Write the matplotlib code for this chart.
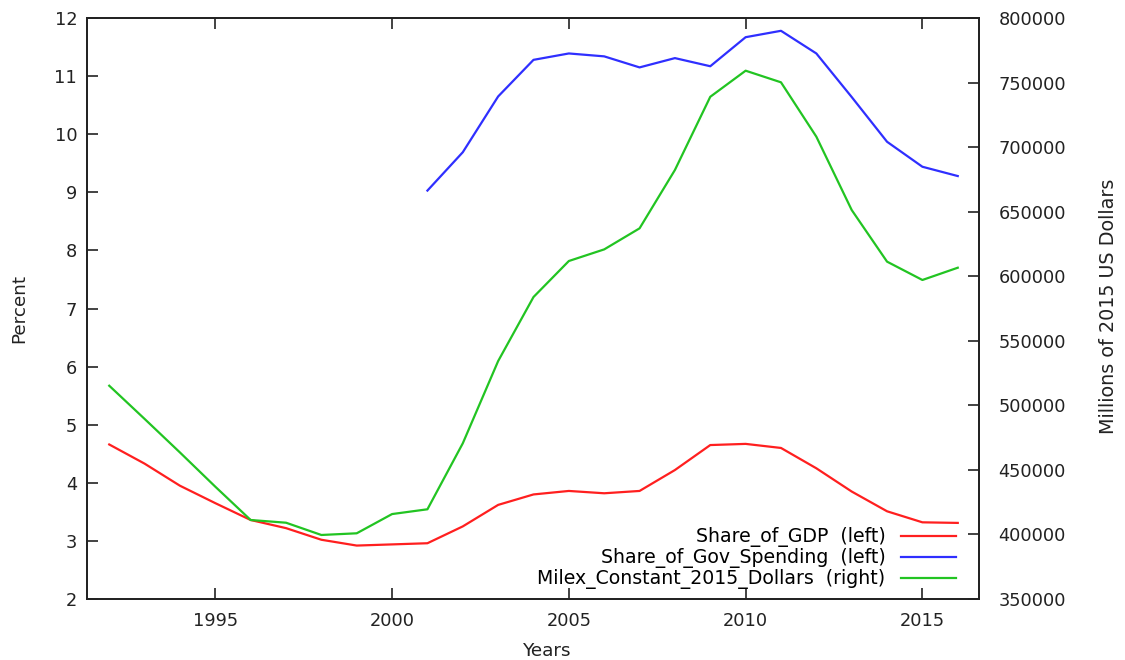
import matplotlib.pyplot as plt

years = list(range(1992, 2017))
share_gdp = [4.66, 4.33, 3.95, 3.65, 3.36, 3.22, 3.02, 2.92, 2.94, 2.96,
             3.25, 3.62, 3.80, 3.86, 3.82, 3.86, 4.22, 4.65, 4.67, 4.60,
             4.25, 3.85, 3.51, 3.32, 3.31]
gov_years = list(range(2001, 2017))
share_gov = [9.03, 9.69, 10.65, 11.28, 11.39, 11.34, 11.15, 11.31, 11.17, 11.67,
             11.78, 11.39, 10.64, 9.87, 9.44, 9.28]
milex = [515200, 489500, 463500, 437000, 411200, 409100, 399600, 400900, 415800, 419500,
         470600, 534300, 583900, 611800, 620800, 637100, 682300, 739000, 759200, 750200,
         708100, 651300, 611300, 597100, 606600]

plt.rcParams['font.family'] = 'DejaVu Sans'
plt.rcParams['font.size'] = 12.8

fig = plt.figure(figsize=(11.25, 6.6), dpi=100)
ax = fig.add_axes([0.0773, 0.0924, 0.7929, 0.8803])
ax2 = ax.twinx()

l1, = ax.plot(years, share_gdp, color='#ff1f1f', lw=1.6, label='Share_of_GDP  (left)')
l2, = ax.plot(gov_years, share_gov, color='#2f2fff', lw=1.6, label='Share_of_Gov_Spending  (left)')
l3, = ax2.plot(years, milex, color='#22c422', lw=1.6, label='Milex_Constant_2015_Dollars  (right)')

ax.set_xlim(1991.37, 2016.6)
ax.set_ylim(2, 12)
ax2.set_ylim(350000, 800000)
ax.set_xticks([1995, 2000, 2005, 2010, 2015])
ax.set_yticks(range(2, 13))
ax2.set_yticks(range(350000, 800001, 50000))

for a in (ax, ax2):
    for s in a.spines.values():
        s.set_linewidth(1.3)
        s.set_color('#222222')
ax.tick_params(axis='x', direction='in', length=8, width=1.2, top=True, pad=9, colors='#222222')
ax.tick_params(axis='y', direction='in', length=8, width=1.2, right=False, pad=7, colors='#222222')
ax2.tick_params(axis='y', direction='in', length=8, width=1.2, pad=14, colors='#222222')

ax.set_xlabel('Years', color='#222222', fontsize=13.2)
ax.xaxis.set_label_coords(0.516, -0.074)
ax.set_ylabel('Percent', color='#222222', fontsize=13.2)
ax.yaxis.set_label_coords(-0.066, 0.5)
ax2.set_ylabel('Millions of 2015 US Dollars', color='#222222', fontsize=13.8)
ax2.yaxis.set_label_coords(1.135, 0.503)

ax.legend(handles=[l1, l2, l3], loc='lower right', bbox_to_anchor=(0.983, 0.004),
          frameon=False, markerfirst=False, handlelength=2.9, handletextpad=0.85,
          labelspacing=0.05, borderaxespad=0, fontsize=13.6)

fig.savefig('out.png', dpi=100)
